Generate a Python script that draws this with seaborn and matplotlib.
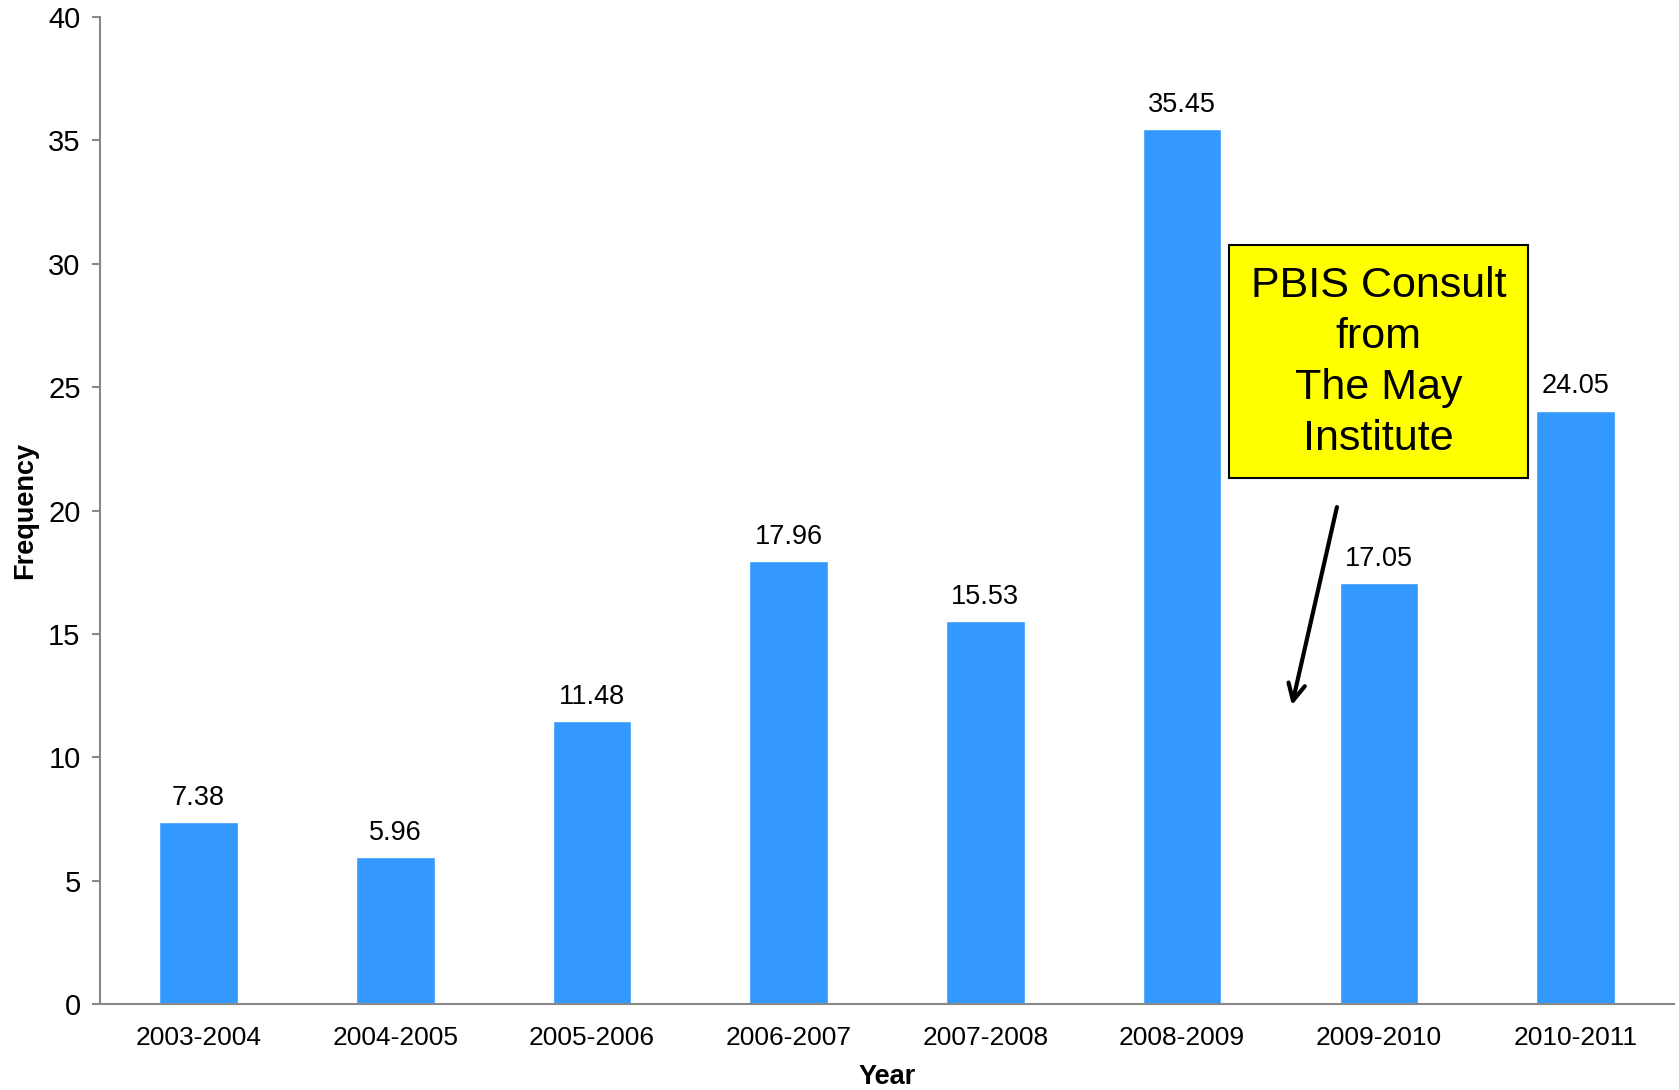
import numpy as np
import pandas as pd
import seaborn as sns
import matplotlib.pyplot as plt
from matplotlib.patches import Rectangle

# data
years = ['2003-2004', '2004-2005', '2005-2006', '2006-2007',
         '2007-2008', '2008-2009', '2009-2010', '2010-2011']
frequency = [7.38, 5.96, 11.48, 17.96, 15.53, 35.45, 17.05, 24.05]
note_lines = ['PBIS Consult', 'from', 'The May', 'Institute']

sns.set_style('white')
plt.rcParams['font.family'] = ['Liberation Sans', 'DejaVu Sans']
plt.rcParams['text.color'] = 'black'
plt.rcParams['axes.labelcolor'] = 'black'
plt.rcParams['xtick.color'] = 'black'
plt.rcParams['ytick.color'] = 'black'

df = pd.DataFrame({'Year': years, 'Frequency': frequency})

fig = plt.figure(figsize=(16.79, 10.90), dpi=100)
ax = fig.add_axes([0.0596, 0.0789, 0.9374, 0.9055])

sns.barplot(data=df, x='Year', y='Frequency', color='#3399FF', saturation=1,
            width=0.4, ax=ax)

for i, v in enumerate(frequency):
    ax.annotate(f'{v:.2f}', (i, v), xytext=(0, 8), textcoords='offset points',
                ha='center', va='bottom', fontsize=19.5)

ax.set_xlim(-0.5, 7.5)
ax.set_ylim(0, 40)
ax.set_yticks(range(0, 41, 5))
ax.set_xticks(np.arange(-0.5, 8, 1), minor=True)
ax.tick_params(axis='x', which='major', length=0, labelsize=19, pad=16)
ax.tick_params(axis='x', which='minor', length=6, color='#888888', width=1.5, direction='out')
ax.tick_params(axis='y', length=6, color='#888888', labelcolor='black', width=1.5,
               labelsize=21, direction='out', pad=8)
ax.tick_params(bottom=True, left=True)
for s in ['top', 'right']:
    ax.spines[s].set_visible(False)
for s in ['left', 'bottom']:
    ax.spines[s].set_color('#888888')
    ax.spines[s].set_linewidth(1.5)

ax.set_xlabel('Year', fontsize=19.5, fontweight='bold', labelpad=10)
ax.set_ylabel('Frequency', fontsize=19.5, fontweight='bold', labelpad=7)

# yellow call-out box with arrow
ax.add_patch(Rectangle((5.24, 21.32), 1.52, 9.44, facecolor='#FFFF00',
                       edgecolor='black', linewidth=1.5, zorder=4))
ax.text(6.0, 26.0, '\n'.join(note_lines), ha='center', va='center',
        fontsize=31, linespacing=1.36, zorder=5)
ax.annotate('', xy=(5.555, 12.0), xytext=(5.79, 20.25),
            arrowprops=dict(arrowstyle='->', color='black', lw=3,
                            mutation_scale=30))

fig.savefig('out.png', dpi=100)
